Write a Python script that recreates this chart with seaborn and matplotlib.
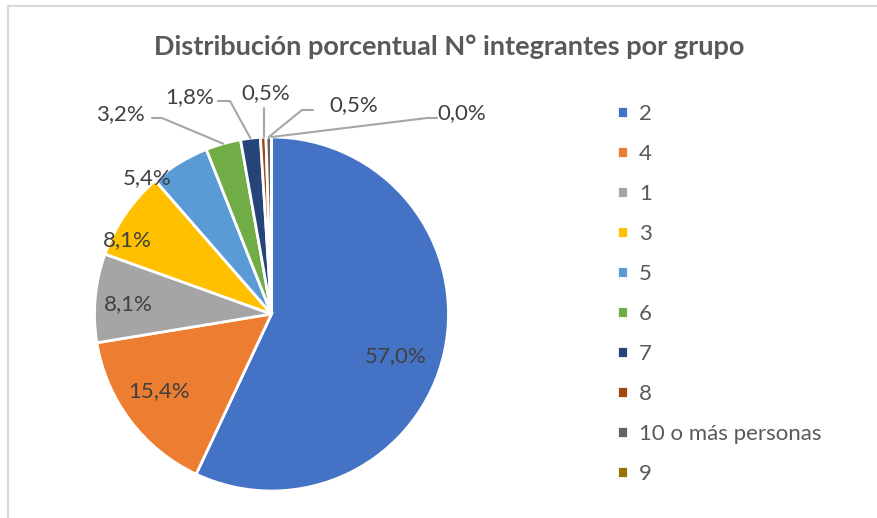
import numpy as np
import matplotlib.pyplot as plt
import seaborn as sns

# categories in drawing order (clockwise from 12 o'clock)
categories = ['2', '4', '1', '3', '5', '6', '7', '8', '10 o más personas', '9']
percentages = [57.0, 15.4, 8.1, 8.1, 5.4, 3.2, 1.8, 0.5, 0.5, 0.0]
label_texts = ['57,0%', '15,4%', '8,1%', '8,1%', '5,4%', '3,2%', '1,8%', '0,5%', '0,5%', '0,0%']
colors = ['#4472C4', '#ED7D31', '#A5A5A5', '#FFC000', '#5B9BD5',
          '#70AD47', '#264478', '#9E480E', '#636363', '#997300']

sns.set_theme(style='white')
plt.rcParams['font.family'] = ['Lato', 'DejaVu Sans']

W, H = 878, 518
fig = plt.figure(figsize=(W / 100, H / 100), dpi=100)
ax = fig.add_axes([0, 0, 1, 1])
ax.set_xlim(0, W)
ax.set_ylim(0, H)
ax.set_aspect('equal')
ax.axis('off')

# chart border (only left and top visible in the reference)
ax.plot([8, 8, W + 5], [-5, H - 6, H - 6], color='#D9D9D9', lw=1.5)

cx, cy, r = 271.5, H - 314, 177
wedges, _ = ax.pie(percentages, colors=colors, startangle=90, counterclock=False,
                   center=(cx, cy), radius=r,
                   wedgeprops=dict(edgecolor='white', linewidth=2))
ax.set_xlim(0, W)
ax.set_ylim(0, H)

# label centres in pixel coords (x, y from top)
label_pos = [(396, 356), (159, 391), (128, 304), (127, 240), (147, 178),
             (120, 114), (190, 97), (266, 93), (354, 105), (462, 113)]
# leader line start + elbow for outside labels (None = no line)
leaders = [None, None, None, None, None,
           [(152, 118), (162, 118)],
           [(218, 101), (230, 101)],
           [(264, 108)],
           [(313, 110), (302, 110)],
           [(437, 118), (427, 118)]]

cum = np.cumsum([0] + percentages[:-1])
for i, txt in enumerate(label_texts):
    px, py = label_pos[i]
    ax.text(px, H - py, txt, ha='center', va='center', fontsize=16, color='#404040')
    if leaders[i] is not None:
        mid = np.deg2rad(90 - 360 * (cum[i] + percentages[i] / 2) / 100)
        tip = (cx + r * np.cos(mid), cy + r * np.sin(mid))
        pts = [(x, H - y) for x, y in leaders[i]]
        if len(pts) == 1:
            pts.append((pts[0][0], tip[1]))
        else:
            pts.append(tip)
        xs, ys = zip(*pts)
        ax.plot(xs, ys, color='#A6A6A6', lw=1.5)

ax.text(449, H - 47, 'Distribución porcentual N° integrantes por grupo',
        ha='center', va='center', fontsize=19.5, fontweight='bold', color='#595959')

leg = ax.legend(wedges, categories, loc='upper left', bbox_to_anchor=(617 / W, 1 - 104 / H),
                frameon=False, fontsize=16, handlelength=0.5, handleheight=0.5,
                handletextpad=0.5, labelspacing=0.9, borderpad=0, borderaxespad=0)
for t in leg.get_texts():
    t.set_color('#595959')

fig.savefig('out.png', dpi=100)
